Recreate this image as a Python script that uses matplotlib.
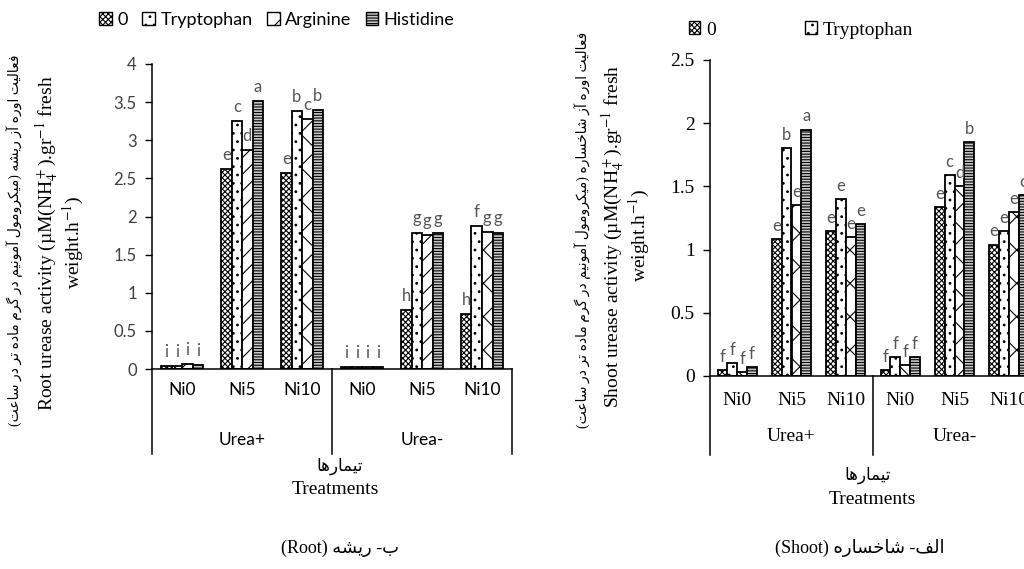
import unicodedata
import numpy as np
import matplotlib
matplotlib.use('Agg')
import matplotlib.pyplot as plt
from matplotlib.patches import Patch
from matplotlib.lines import Line2D

plt.rcParams['hatch.linewidth'] = 0.8
plt.rcParams['mathtext.fontset'] = 'stix'

# ---- data ----
nickel = ['Ni0', 'Ni5', 'Ni10', 'Ni0', 'Ni5', 'Ni10']
urea = ['Urea+', 'Urea-']
series = ['0', 'Tryptophan', 'Arginine', 'Histidine']

root_0 = [0.04, 2.62, 2.57, 0.02, 0.77, 0.72]
root_trp = [0.04, 3.25, 3.38, 0.02, 1.79, 1.88]
root_arg = [0.07, 2.87, 3.28, 0.02, 1.76, 1.80]
root_his = [0.05, 3.52, 3.40, 0.02, 1.78, 1.79]
root_letters = [['i', 'e', 'e', 'i', 'h', 'h'],
                ['i', 'c', 'b', 'i', 'g', 'f'],
                ['i', 'd', 'c', 'i', 'g', 'g'],
                ['i', 'a', 'b', 'i', 'g', 'g']]

shoot_0 = [0.05, 1.08, 1.15, 0.05, 1.34, 1.04]
shoot_trp = [0.10, 1.80, 1.40, 0.15, 1.59, 1.15]
shoot_arg = [0.03, 1.35, 1.10, 0.09, 1.50, 1.30]
shoot_his = [0.07, 1.95, 1.20, 0.15, 1.85, 1.43]
shoot_letters = [['f', 'e', 'e', 'f', 'e', 'e'],
                 ['f', 'b', 'e', 'f', 'c', 'e'],
                 ['f', 'e', 'e', 'f', 'd', 'e'],
                 ['f', 'a', 'e', 'f', 'b', 'c']]

root_fa = 'فعالیت اوره آز ریشه (میکرومول آمونیم در گرم ماده تر در ساعت)'
shoot_fa = 'فعالیت اوره آز شاخساره (میکرومول آمونیم در گرم ماده تر در ساعت)'
treat_fa = 'تیمارها'
root_cap_fa = 'ب- ریشه'
shoot_cap_fa = 'الف- شاخساره'

# presentation forms: isolated, final, initial, medial
FORMS = {
    '\u0627': ('\ufe8d', '\ufe8e', None, None),
    '\u0622': ('\ufe81', '\ufe82', None, None),
    '\u0628': ('\ufe8f', '\ufe90', '\ufe91', '\ufe92'),
    '\u062a': ('\ufe95', '\ufe96', '\ufe97', '\ufe98'),
    '\u062e': ('\ufea5', '\ufea6', '\ufea7', '\ufea8'),
    '\u062f': ('\ufea9', '\ufeaa', None, None),
    '\u0631': ('\ufead', '\ufeae', None, None),
    '\u0632': ('\ufeaf', '\ufeb0', None, None),
    '\u0633': ('\ufeb1', '\ufeb2', '\ufeb3', '\ufeb4'),
    '\u0634': ('\ufeb5', '\ufeb6', '\ufeb7', '\ufeb8'),
    '\u0639': ('\ufec9', '\ufeca', '\ufecb', '\ufecc'),
    '\u0641': ('\ufed1', '\ufed2', '\ufed3', '\ufed4'),
    '\u0644': ('\ufedd', '\ufede', '\ufedf', '\ufee0'),
    '\u0645': ('\ufee1', '\ufee2', '\ufee3', '\ufee4'),
    '\u0646': ('\ufee5', '\ufee6', '\ufee7', '\ufee8'),
    '\u0647': ('\ufee9', '\ufeea', '\ufeeb', '\ufeec'),
    '\u0648': ('\ufeed', '\ufeee', None, None),
    '\u06a9': ('\ufb8e', '\ufb8f', '\ufb90', '\ufb91'),
    '\u06af': ('\ufb92', '\ufb93', '\ufb94', '\ufb95'),
    '\u06cc': ('\ufbfc', '\ufbfd', '\ufbfe', '\ufbff'),
}


def fa(text):
    # join letters and put them in visual (left to right) order
    text = unicodedata.normalize('NFC', text)
    text = text.replace('\u064a', '\u06cc').replace('\u0643', '\u06a9')
    out = []
    for i, ch in enumerate(text):
        if ch not in FORMS:
            out.append(ch)
            continue
        prev = text[i - 1] if i > 0 else ''
        nxt = text[i + 1] if i < len(text) - 1 else ''
        jp = prev in FORMS and FORMS[prev][2] is not None
        jn = FORMS[ch][2] is not None and nxt in FORMS
        iso, fin, ini, med = FORMS[ch]
        if jp and jn:
            out.append(med)
        elif jp:
            out.append(fin)
        elif jn:
            out.append(ini)
        else:
            out.append(iso)
    vis = ''.join(reversed(out))
    return vis.translate(str.maketrans('()', ')('))


SERIF = ['Liberation Serif', 'DejaVu Sans']
SANS = ['Lato', 'DejaVu Sans']
faces = ['white', 'white', 'white', '#c8c8c8']
hatch_root = [['xxxxxx'] * 6, ['..'] * 6,
              ['//', '//', 'x', '//', '//', 'x'], ['------'] * 6]
hatch_shoot = [['xxxxxx'] * 6, ['..'] * 6, ['x'] * 6, ['------'] * 6]


def draw_panel(ax, values, letters, hatches, ymax, ystep, width, off,
               tickfont, ticksize, tickcol, catfont, catsize, ni_y, urea_y, line_y):
    x = np.arange(len(nickel))
    for k, vals in enumerate(values):
        pos = x + (k - 1.5) * width
        for j in range(len(x)):
            ax.bar(pos[j], vals[j], width, facecolor=faces[k], edgecolor='black',
                   hatch=hatches[k][j], linewidth=1.3)
            ax.text(pos[j], vals[j] + off, letters[k][j], ha='center', va='bottom',
                    fontsize=12, color='#555555', family=SANS)
    ax.set_xlim(-0.5, len(x) - 0.5)
    ax.set_ylim(0, ymax)
    ax.set_yticks(np.arange(0, ymax + 0.01, ystep))
    ax.set_yticklabels([f'{v:g}' for v in np.arange(0, ymax + 0.01, ystep)],
                       family=tickfont, fontsize=ticksize, color=tickcol)
    ax.tick_params(axis='y', direction='out', length=5, width=1, pad=6)
    ax.set_xticks([])
    for s in ['top', 'right']:
        ax.spines[s].set_visible(False)
    ax.spines['left'].set_linewidth(1.1)
    ax.spines['bottom'].set_linewidth(1.1)
    tr = ax.get_xaxis_transform()
    for j, name in enumerate(nickel):
        ax.text(j, ni_y, name, transform=tr, ha='center', va='center',
                fontsize=catsize, family=catfont)
    for g, name in enumerate(urea):
        ax.text(1 + 3 * g, urea_y, name, transform=tr, ha='center', va='center',
                fontsize=catsize, family=catfont)
    for xv in [-0.5, 2.5, 5.5]:
        ax.add_line(Line2D([xv, xv], [0, line_y], transform=tr, color='black',
                           linewidth=1.1, clip_on=False))


fig = plt.figure(figsize=(10.24, 5.69), dpi=100)

# left panel: root
ax1 = fig.add_axes([152 / 1024, 1 - 369 / 569, 360 / 1024, 305 / 569])
draw_panel(ax1, [root_0, root_trp, root_arg, root_his], root_letters, hatch_root,
           4, 0.5, 0.175, 0.08, SANS, 12, '#404040', SANS, 12.5, -0.07, -0.233, -0.28)

# right panel: shoot (runs past the right edge)
ax2 = fig.add_axes([710 / 1024, 1 - 376 / 569, 326 / 1024, 316 / 569])
draw_panel(ax2, [shoot_0, shoot_trp, shoot_arg, shoot_his], shoot_letters, hatch_shoot,
           2.5, 0.5, 0.18, 0.04, SERIF, 14, 'black', SERIF, 14, -0.076, -0.193, -0.25)

# legends
handles = [Patch(facecolor=faces[k], edgecolor='black', hatch=hatch_shoot[k][0],
                 label=series[k]) for k in range(4)]
fig.legend(handles=handles, loc='center', bbox_to_anchor=(277 / 1024, 1 - 20 / 569),
           ncol=4, frameon=False, handlelength=0.7, handleheight=0.7,
           handletextpad=0.3, columnspacing=0.8, prop={'family': SANS, 'size': 13})
fig.legend(handles=handles[:2], loc='center', bbox_to_anchor=(801 / 1024, 1 - 30 / 569),
           ncol=2, frameon=False, handlelength=0.6, handleheight=0.6,
           handletextpad=0.3, columnspacing=4.6, prop={'family': SERIF, 'size': 14})

# y labels
fig.text(15 / 1024, 1 - 240 / 569, fa(root_fa), rotation=90, ha='center', va='center',
         fontsize=10, family=SERIF)
fig.text(60 / 1024, 1 - 243 / 569,
         'Root urease activity (µM(NH$_4^+$).gr$^{-1}$ fresh\nweight.h$^{-1}$)',
         rotation=90, ha='center', va='center', fontsize=14, family=SERIF,
         multialignment='center', linespacing=1.0)
fig.text(583 / 1024, 1 - 230 / 569, fa(shoot_fa), rotation=90, ha='center', va='center',
         fontsize=10, family=SERIF)
fig.text(626 / 1024, 1 - 236 / 569,
         'Shoot urease activity (µM(NH$_4^+$).gr$^{-1}$ fresh\nweight.h$^{-1}$)',
         rotation=90, ha='center', va='center', fontsize=14, family=SERIF,
         multialignment='center', linespacing=1.0)

# x labels and captions
fig.text(340 / 1024, 1 - 466 / 569, fa(treat_fa), ha='center', va='center',
         fontsize=12, family=SERIF)
fig.text(335 / 1024, 1 - 489 / 569, 'Treatments', ha='center', va='center',
         fontsize=14, family=SERIF)
fig.text(868 / 1024, 1 - 475 / 569, fa(treat_fa), ha='center', va='center',
         fontsize=12, family=SERIF)
fig.text(872 / 1024, 1 - 499 / 569, 'Treatments', ha='center', va='center',
         fontsize=14, family=SERIF)
fig.text(340 / 1024, 1 - 548 / 569, '(Root) ' + fa(root_cap_fa), ha='center',
         va='center', fontsize=13, family=SERIF)
fig.text(860 / 1024, 1 - 548 / 569, '(Shoot) ' + fa(shoot_cap_fa), ha='center',
         va='center', fontsize=13, family=SERIF)

fig.savefig('out.png', dpi=100)
